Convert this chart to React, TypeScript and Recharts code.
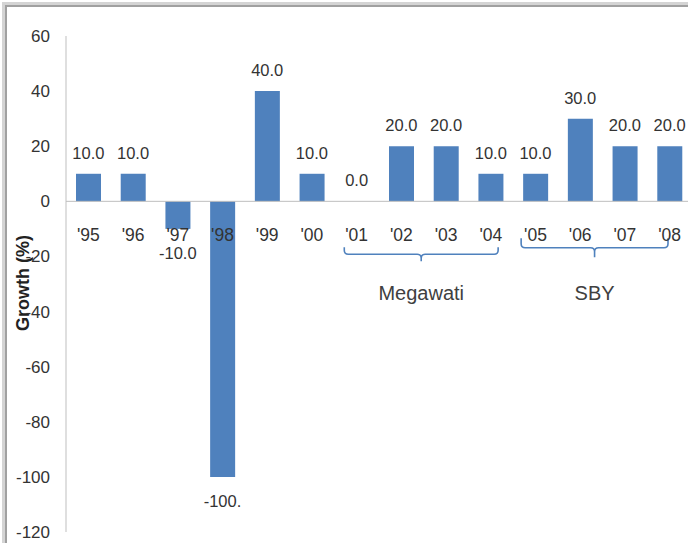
import React from "react";
import { ComposedChart, Bar, Line, XAxis, YAxis, ReferenceLine, ReferenceArea, LabelList } from "recharts";

const years = ["'95", "'96", "'97", "'98", "'99", "'00", "'01", "'02", "'03", "'04", "'05", "'06", "'07", "'08"];
const growth = [10, 10, -10, -100, 40, 10, 0, 20, 20, 10, 10, 30, 20, 20];
// as printed on the chart (the -100 label is clipped in the original)
const valueLabels = ["10.0", "10.0", "-10.0", "-100.", "40.0", "10.0", "0.0", "20.0", "20.0", "10.0", "10.0", "30.0", "20.0", "20.0"];
const yTicks = [60, 40, 20, 0, -20, -40, -60, -80, -100, -120];

const eraNames = ["Megawati", "SBY"];
const eraFrom = ["'01", "'05"];
const eraTo = ["'04", "'08"];

const data = years.map((year, i) => ({ year, growth: growth[i] }));

const FONT = '"Liberation Sans", Arial, sans-serif';
const BLUE = "#4f81bd";
const TEXT = "#333333";

// labels hang off an invisible line so the zero-value year still gets one
const ValueLabel = (props: any) => {
  const { x, y, index } = props;
  const neg = growth[index] < 0;
  return (
    <text
      x={x}
      y={neg ? y + 24 : y - 21}
      textAnchor="middle"
      dominantBaseline="central"
      fill={TEXT}
      fontSize={16.5}
      fontFamily={FONT}
    >
      {valueLabels[index]}
    </text>
  );
};

const YearLabel = (props: any) => {
  const { x, y, index } = props;
  return (
    <text
      x={x}
      y={y + 34}
      textAnchor="middle"
      dominantBaseline="central"
      fill={TEXT}
      fontSize={17.5}
      fontFamily={FONT}
    >
      {years[index]}
    </text>
  );
};

const brace = (name: string, insetL: number, insetR: number, textGap: number) => (props: any) => {
  const { x, y, width, height } = props;
  const L = x + insetL;
  const R = x + width - insetR;
  const C = (L + R) / 2;
  const T = y;
  const M = y + height / 2;
  const B = y + height;
  const r = 4;
  const d = `M${L},${T} V${M - r} Q${L},${M} ${L + r},${M} H${C - r} Q${C},${M} ${C},${M + r} V${B} M${C},${M + r} Q${C},${M} ${C + r},${M} H${R - r} Q${R},${M} ${R},${M - r} V${T}`;
  return (
    <g>
      <path d={d} fill="none" stroke={BLUE} strokeWidth={1.6} />
      <text
        x={C}
        y={B + textGap}
        textAnchor="middle"
        dominantBaseline="central"
        fill="#404040"
        fontSize={20}
        fontFamily={FONT}
      >
        {name}
      </text>
    </g>
  );
};

const YTitle = () => (
  <text
    x={23}
    y={283}
    transform="rotate(-90, 23, 283)"
    textAnchor="middle"
    dominantBaseline="central"
    fill="#222"
    fontSize={18}
    fontWeight="bold"
    fontFamily={FONT}
  >
    Growth (%)
  </text>
);

export default function App() {
  return (
    <div style={{ position: "absolute", left: 0, top: 0, width: 688, height: 543, overflow: "hidden", background: "#fff" }}>
      <div
        style={{
          position: "absolute",
          left: 2,
          top: 2,
          width: 720,
          height: 580,
          borderLeft: "3px solid #d4d4d4",
          borderTop: "3px solid #d4d4d4",
        }}
      >
        <div style={{ width: "100%", height: "100%", borderLeft: "2px solid #a0a0a0", borderTop: "2px solid #a0a0a0" }} />
      </div>
      <div style={{ position: "absolute", left: 0, top: 0 }}>
        <ComposedChart width={692} height={543} data={data} margin={{ top: 36, right: 0, bottom: 11, left: 0 }}>
          <XAxis dataKey="year" hide />
          <YAxis
            domain={[-120, 60]}
            ticks={yTicks}
            width={66}
            tickLine={false}
            tickMargin={10}
            axisLine={{ stroke: "#bfbfbf" }}
            tick={{ fill: TEXT, fontSize: 17, fontFamily: FONT }}
            label={<YTitle />}
          />
          <ReferenceLine y={0} stroke="#bfbfbf" />
          <ReferenceArea
            x1={eraFrom[0]}
            x2={eraTo[0]}
            y1={-16.7}
            y2={-21.7}
            shape={brace(eraNames[0], 10, 15, 32)}
          />
          <ReferenceArea
            x1={eraFrom[1]}
            x2={eraTo[1]}
            y1={-13.4}
            y2={-20.3}
            shape={brace(eraNames[1], 8, 24, 36)}
          />
          <Bar dataKey="growth" fill={BLUE} barSize={25} isAnimationActive={false} />
          <Line
            dataKey="growth"
            stroke="none"
            dot={false}
            activeDot={false}
            legendType="none"
            isAnimationActive={false}
          >
            <LabelList dataKey="growth" content={ValueLabel} />
          </Line>
          <Line
            dataKey={() => 0}
            stroke="none"
            dot={false}
            activeDot={false}
            legendType="none"
            isAnimationActive={false}
          >
            <LabelList dataKey="year" content={YearLabel} />
          </Line>
        </ComposedChart>
      </div>
    </div>
  );
}
